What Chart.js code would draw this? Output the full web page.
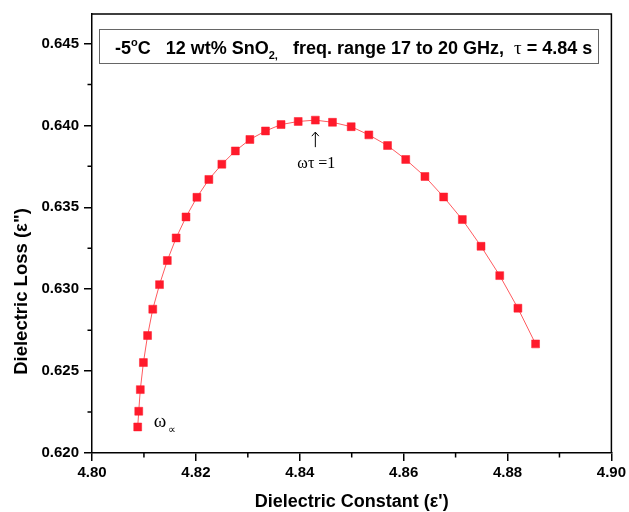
<!DOCTYPE html>
<html><head><meta charset="utf-8">
<script src="https://cdn.jsdelivr.net/npm/chart.js@4/dist/chart.umd.min.js"></script>
<style>html,body{margin:0;padding:0;background:#fff}</style>
</head><body>
<canvas id="c" width="629" height="512"></canvas>
<script>
// Dielectric constant (ε') values
const epsReal = [4.8088, 4.8090, 4.8093, 4.8099, 4.8107, 4.8117, 4.8130, 4.8145, 4.8162, 4.8181,
                 4.8202, 4.8225, 4.8250, 4.8276, 4.8304, 4.8334, 4.8364, 4.8397, 4.8430, 4.8463,
                 4.8499, 4.8533, 4.8569, 4.8604, 4.8641, 4.8677, 4.8713, 4.8749, 4.8785, 4.8820, 4.8854];
// Dielectric loss (ε") values
const epsLoss = [0.62159, 0.62255, 0.62387, 0.62552, 0.62717, 0.62878, 0.63028, 0.63175, 0.63313, 0.63441,
                 0.63561, 0.63670, 0.63763, 0.63844, 0.63914, 0.63966, 0.64005, 0.64024, 0.64032, 0.64019,
                 0.63992, 0.63942, 0.63877, 0.63792, 0.63688, 0.63563, 0.63425, 0.63262, 0.63083, 0.62884, 0.62666];
const xTicks = [4.80, 4.82, 4.84, 4.86, 4.88, 4.90];
const xTickLabels = ['4.80', '4.82', '4.84', '4.86', '4.88', '4.90'];
const xMinorTicks = [4.81, 4.83, 4.85, 4.87, 4.89];
const yTicks = [0.620, 0.625, 0.630, 0.635, 0.640, 0.645];
const yTickLabels = ['0.620', '0.625', '0.630', '0.635', '0.640', '0.645'];
const yMinorTicks = [0.6225, 0.6275, 0.6325, 0.6375, 0.6425];
const xRange = [4.80, 4.90];
const yRange = [0.620, 0.6468];
const xTitle = "Dielectric Constant (\u03B5')";
const yTitle = 'Dielectric Loss (\u03B5")';
const peakIndex = 18;     // ωτ = 1 point
const startIndex = 0;     // ω∝ point

const SANS = '"Liberation Sans", Arial, sans-serif';
const SERIF = '"Liberation Serif", "Times New Roman", serif';

const annot = {
  id: 'annot',
  afterDraw(chart) {
    const {ctx, chartArea: a, scales: {x, y}} = chart;
    ctx.save();
    // frame (top/right)
    ctx.strokeStyle = '#000';
    ctx.lineWidth = 1.5;
    ctx.beginPath();
    ctx.moveTo(a.left, a.top); ctx.lineTo(a.right, a.top); ctx.lineTo(a.right, a.bottom);
    ctx.stroke();
    // minor ticks
    ctx.beginPath();
    xMinorTicks.forEach(v => { const px = x.getPixelForValue(v); ctx.moveTo(px, a.bottom); ctx.lineTo(px, a.bottom + 4.5); });
    yMinorTicks.forEach(v => { const py = y.getPixelForValue(v); ctx.moveTo(a.left, py); ctx.lineTo(a.left - 4.5, py); });
    ctx.stroke();

    // y axis title (placed slightly below centre, as in the original)
    ctx.save();
    ctx.translate(22, (a.top + a.bottom) / 2 + 58);
    ctx.rotate(-Math.PI / 2);
    ctx.font = 'bold 18.5px ' + SANS;
    ctx.fillStyle = '#000'; ctx.textAlign = 'center'; ctx.textBaseline = 'middle';
    ctx.fillText(yTitle, 0, 0);
    ctx.restore();

    // info box
    const bx = a.left + 7, by = a.top + 15, bw = (a.right - 13) - bx, bh = 34;
    ctx.strokeStyle = '#666'; ctx.lineWidth = 1;
    ctx.strokeRect(Math.round(bx) + 0.5, Math.round(by) + 0.5, Math.round(bw), bh);
    const B = 'bold 18px ' + SANS, S = 'bold 11px ' + SANS;
    const pieces = [
      {t: '-5', f: B, dy: 0},
      {t: 'o', f: S, dy: -8},
      {t: 'C   12 wt% SnO', f: B, dy: 0},
      {t: '2', f: S, dy: 5},
      {t: ',', f: S, dy: 5},
      {t: '   freq. range 17 to 20 GHz,  ', f: B, dy: 0},
      {t: '\u03C4', f: '19px ' + SERIF, dy: 0},
      {t: ' = 4.84 s', f: B, dy: 0}
    ];
    let tx = a.left + 23; const base = a.top + 40;
    ctx.fillStyle = '#000'; ctx.textBaseline = 'alphabetic'; ctx.textAlign = 'left';
    pieces.forEach(p => { ctx.font = p.f; ctx.fillText(p.t, tx, base + p.dy); tx += ctx.measureText(p.t).width; });

    // ωτ = 1 annotation
    const px = x.getPixelForValue(epsReal[peakIndex]);
    const py = y.getPixelForValue(epsLoss[peakIndex]);
    ctx.strokeStyle = '#000'; ctx.lineWidth = 1;
    ctx.beginPath();
    ctx.moveTo(px, py + 12); ctx.lineTo(px, py + 27);
    ctx.moveTo(px - 3.5, py + 16); ctx.lineTo(px, py + 12); ctx.lineTo(px + 3.5, py + 16);
    ctx.stroke();
    ctx.font = '16px ' + SERIF; ctx.textAlign = 'center';
    ctx.fillText('\u03C9\u03C4 =1', px + 1, py + 48);

    // ω∝ annotation
    const sx = x.getPixelForValue(epsReal[startIndex]);
    const sy = y.getPixelForValue(epsLoss[startIndex]);
    ctx.textAlign = 'left';
    ctx.font = '19px ' + SERIF;
    ctx.fillText('\u03C9', sx + 16, sy);
    ctx.font = '11px ' + SERIF;
    ctx.fillText('\u221D', sx + 30, sy + 6);
    ctx.restore();
  }
};

const points = epsReal.map((v, i) => ({x: v, y: epsLoss[i]}));

new Chart(document.getElementById('c'), {
  type: 'scatter',
  data: {
    datasets: [{
      data: points,
      showLine: true,
      borderColor: '#ff5a5f',
      borderWidth: 1,
      pointStyle: 'rect',
      pointRadius: 5.6,
      pointBackgroundColor: '#ff1a2b',
      pointBorderColor: '#ff1a2b',
      pointBorderWidth: 0.5
    }]
  },
  options: {
    responsive: false,
    animation: false,
    devicePixelRatio: 1,
    layout: {padding: {left: 0, right: 14, top: 14, bottom: 0}},
    plugins: {legend: {display: false}, tooltip: {enabled: false}},
    scales: {
      x: {
        type: 'linear',
        min: xRange[0], max: xRange[1],
        afterBuildTicks: s => { s.ticks = xTicks.map(v => ({value: v})); },
        afterFit: s => { s.height = 59; },
        ticks: {
          callback: (v, i) => xTickLabels[i],
          font: {family: SANS, size: 15, weight: 'bold'},
          color: '#000', padding: 3, maxRotation: 0
        },
        grid: {display: true, drawOnChartArea: false, drawTicks: true, tickLength: 8, color: '#000', lineWidth: 1.5},
        border: {display: true, color: '#000', width: 1.5},
        title: {display: true, text: xTitle, font: {family: SANS, size: 18, weight: 'bold'}, color: '#000', padding: {top: 0, bottom: -1}}
      },
      y: {
        type: 'linear',
        min: yRange[0], max: yRange[1],
        afterBuildTicks: s => { s.ticks = yTicks.map(v => ({value: v})); },
        afterFit: s => { s.width = 92; },
        ticks: {
          callback: (v, i) => yTickLabels[i],
          font: {family: SANS, size: 15, weight: 'bold'},
          color: '#000', padding: 5
        },
        grid: {display: true, drawOnChartArea: false, drawTicks: true, tickLength: 8, color: '#000', lineWidth: 1.5},
        border: {display: true, color: '#000', width: 1.5},
        title: {display: false, text: yTitle}
      }
    }
  },
  plugins: [annot]
});
</script>
</body></html>
